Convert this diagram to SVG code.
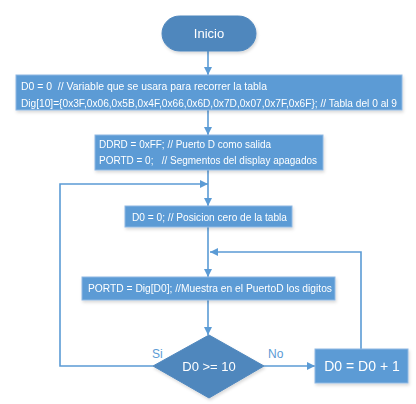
<svg xmlns="http://www.w3.org/2000/svg" width="416" height="404" viewBox="0 0 416 404">
<style>
.box{fill:#5b9bd5;stroke:#8fb8e3;stroke-width:1}
.dark{fill:#4f87bd;stroke:#4f87bd;stroke-width:1}
.t{font-family:"Liberation Sans",Arial,sans-serif;fill:#ffffff;font-size:10px;white-space:pre}
.lbl{font-family:"Liberation Sans",Arial,sans-serif;fill:#5b9bd5;font-size:12px}
.ln{fill:none;stroke:#5b9bd5;stroke-width:1.6}
</style>
<defs>
<marker id="ah" viewBox="0 0 10 10" refX="10" refY="5" markerWidth="8" markerHeight="8" markerUnits="userSpaceOnUse" orient="auto">
<path d="M0,0 L10,5 L0,10 z" fill="#5b9bd5"/>
</marker>
<filter id="sh" x="-10%" y="-10%" width="120%" height="140%">
<feDropShadow dx="1" dy="2" stdDeviation="1.5" flood-color="#000" flood-opacity="0.15"/>
</filter>
</defs>
<g id="connectors">
<line class="ln" x1="208" y1="51" x2="208" y2="75" marker-end="url(#ah)"/>
<line class="ln" x1="208" y1="110" x2="208" y2="135" marker-end="url(#ah)"/>
<line class="ln" x1="208" y1="170" x2="208" y2="206" marker-end="url(#ah)"/>
<line class="ln" x1="208" y1="227" x2="208" y2="277" marker-end="url(#ah)"/>
<line class="ln" x1="208" y1="300" x2="208" y2="335" marker-end="url(#ah)"/>
<polyline class="ln" points="153,366 60,366 60,184 208,184" marker-end="url(#ah)"/>
<line class="ln" x1="264" y1="366" x2="315" y2="366" marker-end="url(#ah)"/>
<polyline class="ln" points="361,349 361,252 210,252" marker-end="url(#ah)"/>
<text class="lbl" x="152" y="358">Si</text>
<text class="lbl" x="268" y="358">No</text>
</g>
<g id="inicio" filter="url(#sh)">
<rect class="dark" x="162" y="16" width="94" height="35" rx="17.5"/>
<text class="t" x="209" y="38" text-anchor="middle" style="font-size:13px">Inicio</text>
</g>
<g id="init" filter="url(#sh)">
<rect class="box" x="16" y="75" width="386" height="35"/>
<text class="t" x="21" y="90" textLength="246" lengthAdjust="spacingAndGlyphs" xml:space="preserve">D0 = 0  // Variable que se usara para recorrer la tabla</text>
<text class="t" x="21" y="107" textLength="376" lengthAdjust="spacingAndGlyphs">Dig[10]={0x3F,0x06,0x5B,0x4F,0x66,0x6D,0x7D,0x07,0x7F,0x6F}; // Tabla del 0 al 9</text>
</g>
<g id="ports" filter="url(#sh)">
<rect class="box" x="95" y="135" width="228" height="35"/>
<text class="t" x="99" y="148" textLength="172" lengthAdjust="spacingAndGlyphs">DDRD = 0xFF; // Puerto D como salida</text>
<text class="t" x="99" y="164" textLength="218" lengthAdjust="spacingAndGlyphs" xml:space="preserve">PORTD = 0;   // Segmentos del display apagados</text>
</g>
<g id="reset" filter="url(#sh)">
<rect class="box" x="125" y="206" width="167" height="21"/>
<text class="t" x="132" y="221" textLength="155" lengthAdjust="spacingAndGlyphs">D0 = 0; // Posicion cero de la tabla</text>
</g>
<g id="show" filter="url(#sh)">
<rect class="box" x="82" y="277" width="253" height="23"/>
<text class="t" x="88" y="292" textLength="244" lengthAdjust="spacingAndGlyphs">PORTD = Dig[D0]; //Muestra en el PuertoD los digitos</text>
</g>
<g id="decision" filter="url(#sh)">
<polygon class="dark" points="209,335 264,366 209,398 153,366"/>
<text class="t" x="209" y="371" text-anchor="middle" style="font-size:13px">D0 &gt;= 10</text>
</g>
<g id="incr" filter="url(#sh)">
<rect class="box" x="315" y="349" width="93" height="34"/>
<text class="t" x="362" y="371" text-anchor="middle" style="font-size:14px">D0 = D0 + 1</text>
</g>
</svg>
